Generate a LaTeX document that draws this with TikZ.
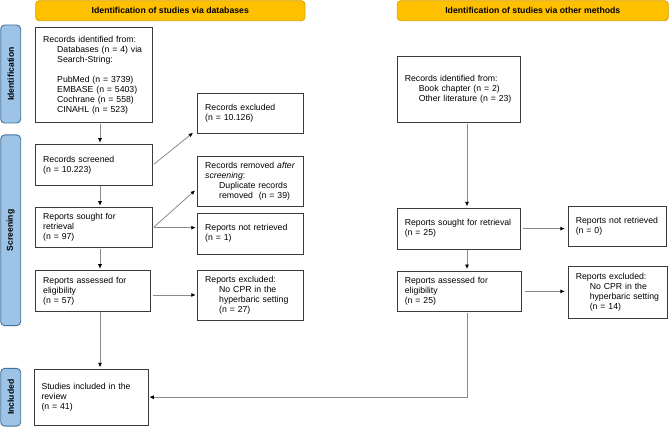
\documentclass[tikz,border=0pt]{standalone}
\usepackage{fontspec}
\setmainfont{Liberation Sans}
\usetikzlibrary{arrows.meta,calc}
\definecolor{hdr}{HTML}{FFC000}
\definecolor{hdrline}{HTML}{D9A300}
\definecolor{side}{HTML}{9DC3E6}
\definecolor{sideline}{HTML}{41719C}
\definecolor{boxline}{HTML}{3A3A3A}
\definecolor{conn}{HTML}{8A8A8A}
\newcommand\pbox[6]{%
  \pgfmathsetmacro\pbW{#4-#2}\pgfmathsetmacro\pbH{#5-#3}\pgfmathsetmacro\pbT{#4-#2-15}%
  \node[box,minimum width=\pbW pt,minimum height=\pbH pt,text width=\pbT pt] (#1) at ({(#2+#4)/2},{(#3+#5)/2}) {#6};}
\newcommand\ind{\hspace*{14pt}}
\tikzset{
  box/.style={draw=boxline,line width=0.9pt,fill=white,inner xsep=7.5pt,inner ysep=2pt,align=left,
    font=\fontsize{8.7}{10}\selectfont},
  hdrbox/.style={draw=hdrline,fill=hdr,line width=0.8pt,rounded corners=3.5pt,
    font=\fontsize{8.7}{10}\selectfont\bfseries,inner sep=0pt},
  sidebox/.style={draw=sideline,fill=side,line width=0.9pt,rounded corners=4pt,rotate=90,
    font=\fontsize{8.6}{10}\selectfont\bfseries,inner sep=0pt,minimum height=20pt},
  conn/.style={draw=conn,line width=0.8pt,-{Latex[length=4.5pt,width=4pt,black]},shorten >=1.5pt,shorten <=1pt}
}
\begin{document}
\begin{tikzpicture}[x=1pt,y=-1pt]
\useasboundingbox (0,0) rectangle (669,427);
% headers
\node[hdrbox,minimum width=269.3pt,minimum height=20pt] (h1) at (170.3,10.7) {Identification of studies via databases};
\node[hdrbox,minimum width=271pt,minimum height=20pt] (h2) at (532.8,10.7) {Identification of studies via other methods};
% side bars
\node[sidebox,minimum width=98pt] (s1) at (10.7,74) {Identification};
\node[sidebox,minimum width=190.7pt] (s2) at (10.7,230.3) {Screening};
\node[sidebox,minimum width=57.7pt] (s3) at (10.7,397.2) {Included};
% left column
\pbox{id1}{35.7}{27.3}{152.7}{122.3}{Records identified from:\\ \ind Databases (n = 4) via\\ \ind Search-String:\\[10pt] \ind PubMed (n = 3739)\\ \ind EMBASE (n = 5403)\\ \ind Cochrane (n = 558)\\ \ind CINAHL (n = 523)}
\pbox{excl1}{197.7}{93.3}{303.3}{133.3}{Records excluded\\(n = 10.126)}
\pbox{scr}{35.7}{144.7}{152.7}{185}{Records screened\\(n = 10.223)}
\pbox{rem}{197.7}{156.7}{303.3}{206}{Records removed \textit{after}\\ \textit{screening}:\\ \ind Duplicate records\\ \ind removed\ \ (n = 39)}
\pbox{sought}{35.7}{207.7}{152.7}{247.7}{Reports sought for\\retrieval\\(n = 97)}
\pbox{notret}{197.7}{213.3}{303.3}{254}{Reports not retrieved\\(n = 1)}
\pbox{assess}{35.7}{270.7}{150.7}{311}{Reports assessed for\\eligibility\\(n = 57)}
\pbox{excl2}{197.7}{270}{303.3}{320}{Reports excluded:\\ \ind No CPR in the\\ \ind hyperbaric setting\\ \ind (n = 27)}
\pbox{incl}{34}{369.3}{148.3}{425}{Studies included in the\\review\\(n = 41)}
% right column
\pbox{idR}{397.3}{56.7}{520}{122.3}{Records identified from:\\ \ind Book chapter (n = 2)\\ \ind Other literature (n = 23)}
\pbox{soughtR}{397.3}{208.3}{520}{249}{Reports sought for retrieval\\(n = 25)}
\pbox{notretR}{568.3}{206}{666.7}{246.7}{Reports not retrieved\\(n = 0)}
\pbox{assessR}{397.3}{271}{521.7}{311.7}{Reports assessed for\\eligibility\\(n = 25)}
\pbox{exclR}{568.3}{266}{667.3}{318.3}{Reports excluded:\\ \ind No CPR in the\\ \ind hyperbaric setting\\ \ind (n = 14)}
% connectors
\coordinate (cL) at (100,0);
\coordinate (cR) at (467,0);
\draw[conn] (id1.south -| cL) -- (scr.north -| cL);
\draw[conn] (scr.south -| cL) -- (sought.north -| cL);
\draw[conn] (sought.south -| cL) -- (assess.north -| cL);
\draw[conn] (assess.south -| cL) -- (incl.north -| cL);
\draw[conn] (scr.east) -- ([xshift=-3pt,yshift=2pt]excl1.south west);
\draw[conn] (sought.east) -- ([xshift=-1pt,yshift=-8pt]rem.west);
\draw[conn] (sought.east) -- (sought.east -| notret.west);
\draw[conn,shorten <=2pt] (assess.east |- excl2.west) -- (excl2.west);
\draw[conn] (idR.south -| cR) -- (soughtR.north -| cR);
\draw[conn] (soughtR.south -| cR) -- (assessR.north -| cR);
\draw[conn,shorten <=2.5pt,shorten >=3pt] (soughtR.east) -- (soughtR.east -| notretR.west);
\draw[conn,shorten <=2.5pt,shorten >=3pt] (assessR.east) -- (assessR.east -| exclR.west);
\draw[conn,shorten >=0.5pt] (assessR.south -| cR) |- (incl.east);
\end{tikzpicture}
\end{document}
